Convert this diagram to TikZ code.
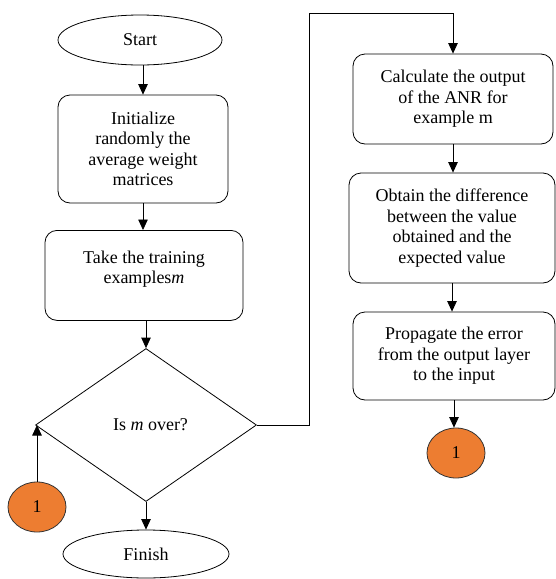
\documentclass[tikz,border=0pt]{standalone}
\usepackage{fontspec}
\setmainfont{Liberation Serif}
\usetikzlibrary{shapes.geometric,arrows.meta}
\definecolor{conorange}{HTML}{ED7D31}
\begin{document}
\begin{tikzpicture}[x=1pt,y=-1pt,
  every node/.style={font=\rmfamily\fontsize{18}{20.5}\selectfont, align=center, draw=black, line width=0.8pt},
  term/.style={ellipse, minimum width=164pt, minimum height=50pt, inner sep=0pt},
  proc/.style={rectangle, rounded corners=12pt, inner sep=2pt},
  conn/.style={ellipse, fill=conorange, minimum width=58pt, minimum height=50pt, inner sep=0pt, draw=black!80},
  arr/.style={-{Triangle[length=10.5pt,width=9.5pt]}, line width=0.8pt}]
\useasboundingbox (0,0) rectangle (555,579);
\node[term] (start) at (140,40) {Start};
\node[proc, minimum width=170pt, minimum height=108pt] (init) at (143,149) {Initialize\\randomly the\\average weight\\matrices};
\node[proc, minimum width=198pt, minimum height=90pt, anchor=north] (take) at (144,230) {\\[-26pt]Take the training\\examples\textit{m}};
\node[diamond, minimum width=221pt, minimum height=153pt, aspect=1.44, inner sep=0pt] (dia) at (146,425) {\ \ Is \textit{m} over?};
\node[conn] (c1) at (37,507) {1};
\node[term, minimum width=166pt, minimum height=48pt] (finish) at (146,554) {Finish};
\node[proc, minimum width=200pt, minimum height=90pt] (calc) at (453,99) {Calculate the output\\of the ANR for\\example m};
\node[proc, minimum width=206pt, minimum height=110pt] (obt) at (452,228) {Obtain the difference\\between the value\\obtained and the\\expected value};
\node[proc, minimum width=202pt, minimum height=88pt] (prop) at (454,356) {Propagate the error\\from the output layer\\to the input};
\node[conn] (c2) at (456,453) {1};
\coordinate (turn) at (309,13);
\draw[arr] (start.south -| init.north) -- (init.north);
\draw[arr] (init.south) -- (init.south |- take.north);
\draw[arr] (take.south -| dia.north) -- (dia.north);
\draw[arr] (dia.south) -- (finish.north);
\draw[arr] (c1.north) -- (c1.north |- dia.west);
\draw[arr] (dia.east) -| (turn) -| (calc.north);
\draw[arr] (calc.south) -- (calc.south |- obt.north);
\draw[arr] (obt.south) -- (obt.south |- prop.north);
\draw[arr] (prop.south) -- (prop.south |- c2.north);
\end{tikzpicture}
\end{document}
